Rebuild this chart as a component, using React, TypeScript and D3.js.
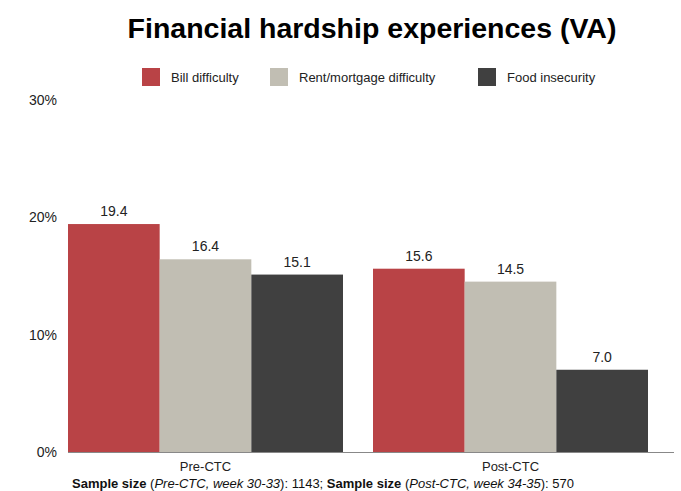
import React from "react";
import * as d3 from "d3";

const groups = ["Pre-CTC", "Post-CTC"];
const series = ["Bill difficulty", "Rent/mortgage difficulty", "Food insecurity"];
const colors = ["#b94346", "#c1beb3", "#404040"];
const values = [
  [19.4, 16.4, 15.1],
  [15.6, 14.5, 7.0],
];
const yTicks = [0, 10, 20, 30];
const legendX = [142, 270, 478];

export default function App() {
  const W = 681, H = 491;
  const x0 = d3.scaleBand<string>().domain(groups).range([68, 648]).paddingInner(0.0984).paddingOuter(0);
  const x1 = d3.scaleBand<string>().domain(series).range([0, x0.bandwidth()]).padding(0);
  const y = d3.scaleLinear().domain([0, 30]).range([452, 99.5]);
  const font = "Arial, 'Liberation Sans', sans-serif";
  return (
    <svg width={W} height={H} style={{ position: "absolute", left: 0, top: 0 }} fontFamily={font}>
      <rect width={W} height={H} fill="#fff" />
      <text x={372} y={38} textAnchor="middle" fontSize={28.5} fontWeight="bold" fill="#000">
        Financial hardship experiences (VA)
      </text>
      {series.map((s, i) => (
        <g key={s}>
          <rect x={legendX[i]} y={68} width={18} height={18} fill={colors[i]} />
          <text x={legendX[i] + 29} y={82} fontSize={13} fill="#222">{s}</text>
        </g>
      ))}
      {yTicks.map((t) => (
        <text key={t} x={57} y={y(t) + 5} textAnchor="end" fontSize={14} fill="#222">{t}%</text>
      ))}
      {groups.map((g, gi) => (
        <g key={g}>
          {series.map((s, si) => {
            const v = values[gi][si];
            const bx = (x0(g) as number) + (x1(s) as number);
            return (
              <g key={s}>
                <rect x={bx} y={y(v)} width={x1.bandwidth()} height={y(0) - y(v)} fill={colors[si]} />
                <text x={bx + x1.bandwidth() / 2} y={y(v) - 8} textAnchor="middle" fontSize={14} fill="#222">
                  {v.toFixed(1)}
                </text>
              </g>
            );
          })}
          <text x={(x0(g) as number) + x0.bandwidth() / 2} y={471} textAnchor="middle" fontSize={13} fill="#222">{g}</text>
        </g>
      ))}
      <line x1={68} x2={674} y1={452.5} y2={452.5} stroke="#888" strokeWidth={1} />
      <text x={72} y={488} fontSize={13} fill="#111">
        <tspan fontWeight="bold">Sample size</tspan>
        <tspan> (</tspan>
        <tspan fontStyle="italic">Pre-CTC, week 30-33</tspan>
        <tspan>): 1143; </tspan>
        <tspan fontWeight="bold">Sample size</tspan>
        <tspan> (</tspan>
        <tspan fontStyle="italic">Post-CTC, week 34-35</tspan>
        <tspan>): 570</tspan>
      </text>
    </svg>
  );
}
